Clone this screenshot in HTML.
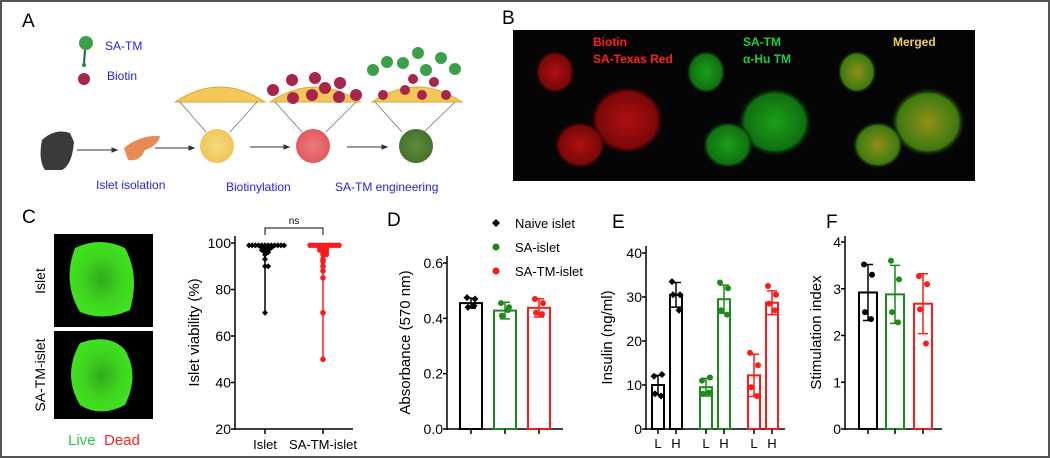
<!DOCTYPE html>
<html><head><meta charset="utf-8"><style>
html,body{margin:0;padding:0;background:#fff}
svg{display:block;font-family:"Liberation Sans",Arial,sans-serif}
</style></head><body>
<svg id="fig" width="1050" height="458" viewBox="0 0 1050 458">
<defs>
<radialGradient id="gy"><stop offset="0" stop-color="#f7dc7a"/><stop offset="1" stop-color="#efc55a"/></radialGradient>
<radialGradient id="gr"><stop offset="0" stop-color="#ef7b7b"/><stop offset="1" stop-color="#e05a5e"/></radialGradient>
<radialGradient id="gg"><stop offset="0" stop-color="#5e8e3e"/><stop offset="1" stop-color="#44722b"/></radialGradient>
<radialGradient id="bred"><stop offset="0" stop-color="#b01010"/><stop offset="0.8" stop-color="#7a0808"/><stop offset="1" stop-color="#000" stop-opacity="0"/></radialGradient>
<radialGradient id="bgrn"><stop offset="0" stop-color="#1aa01a"/><stop offset="0.8" stop-color="#107010"/><stop offset="1" stop-color="#000" stop-opacity="0"/></radialGradient>
<radialGradient id="bmrg"><stop offset="0" stop-color="#909018"/><stop offset="0.8" stop-color="#3e7a10"/><stop offset="1" stop-color="#000" stop-opacity="0"/></radialGradient>
<radialGradient id="live"><stop offset="0" stop-color="#2faa1a"/><stop offset="0.6" stop-color="#3ed41e"/><stop offset="1" stop-color="#40e020"/></radialGradient>
</defs>
<rect x="1" y="1" width="1048" height="456" fill="#fff" stroke="#555" stroke-width="2"/>

<!-- Panel A -->
<g>
<text x="22" y="27" font-size="19">A</text>
<g><circle cx="86" cy="43" r="7" fill="#3aa04a"/><line x1="85" y1="50" x2="84" y2="63" stroke="#2b5a50" stroke-width="2"/><circle cx="84" cy="65" r="2" fill="#2a8a2a"/></g>
<text x="105" y="50" font-size="12" fill="#2222ee">SA-TM</text>
<circle cx="84" cy="79" r="6" fill="#a8244a"/>
<text x="107" y="80" font-size="12" fill="#2222ee">Biotin</text>
<path d="M175 102 Q220 72 265 102 Z" fill="#f3c85a" stroke="#d9a83a"/>
<path d="M270 102 Q315 72 360 102 Z" fill="#f3c85a" stroke="#d9a83a"/>
<path d="M372 102 Q417 72 462 102 Z" fill="#f3c85a" stroke="#d9a83a"/>
<g fill="#a8244a">
<circle cx="273" cy="90" r="6"/><circle cx="292" cy="80" r="6"/><circle cx="315" cy="78" r="6"/><circle cx="325" cy="88" r="6"/><circle cx="340" cy="83" r="6"/><circle cx="293" cy="98" r="6"/><circle cx="312" cy="95" r="6"/><circle cx="339" cy="97" r="6"/><circle cx="356" cy="95" r="6"/>
<circle cx="383" cy="95" r="5"/><circle cx="405" cy="90" r="5"/><circle cx="422" cy="95" r="5"/><circle cx="446" cy="95" r="5"/><circle cx="413" cy="79" r="5"/><circle cx="434" cy="82" r="5"/>
</g>
<g fill="#3aa04a">
<circle cx="373" cy="70" r="6"/><circle cx="387" cy="62" r="6"/><circle cx="403" cy="63" r="6"/><circle cx="418" cy="53" r="6"/><circle cx="426" cy="70" r="6"/><circle cx="441" cy="58" r="6"/><circle cx="455" cy="69" r="6"/>
</g>
<g stroke="#666" stroke-width="0.7">
<line x1="180" y1="102" x2="206" y2="132"/><line x1="257" y1="102" x2="230" y2="132"/>
<line x1="275" y1="102" x2="302" y2="132"/><line x1="356" y1="102" x2="326" y2="132"/>
<line x1="375" y1="102" x2="402" y2="132"/><line x1="455" y1="102" x2="424" y2="132"/>
</g>
<path d="M42 140 Q55 128 70 133 L74 142 Q72 165 62 170 L45 170 Q38 160 42 140 Z" fill="#3a3a3a"/>
<path d="M124 148 Q140 135 160 136 Q158 146 145 150 Q140 162 128 160 Z" fill="#e88a55"/>
<circle cx="217" cy="146" r="17" fill="url(#gy)"/>
<circle cx="313" cy="146" r="17" fill="url(#gr)"/>
<circle cx="416" cy="146" r="17" fill="url(#gg)"/>
<g stroke="#333" stroke-width="1" fill="#333">
<line x1="77" y1="150" x2="113" y2="150"/><path d="M117 150 l-5 -2 v4 z"/>
<line x1="155" y1="148" x2="190" y2="148"/><path d="M194 148 l-5 -2 v4 z"/>
<line x1="250" y1="147" x2="285" y2="147"/><path d="M289 147 l-5 -2 v4 z"/>
<line x1="347" y1="147" x2="383" y2="147"/><path d="M387 147 l-5 -2 v4 z"/>
</g>
<text x="96" y="189" font-size="12" fill="#2222ee">Islet isolation</text>
<text x="226" y="191" font-size="12" fill="#2222ee">Biotinylation</text>
<text x="335" y="191" font-size="12" fill="#2222ee">SA-TM engineering</text>
</g>

<!-- Panel B -->
<g>
<text x="502" y="24" font-size="19">B</text>
<rect x="513" y="30" width="462" height="151" fill="#050505"/>
<ellipse cx="555" cy="72" rx="20" ry="22" fill="url(#bred)"/>
<ellipse cx="627" cy="120" rx="38" ry="35" fill="url(#bred)"/>
<ellipse cx="580" cy="145" rx="26" ry="24" fill="url(#bred)"/>
<ellipse cx="706" cy="72" rx="20" ry="22" fill="url(#bgrn)"/>
<ellipse cx="775" cy="122" rx="38" ry="35" fill="url(#bgrn)"/>
<ellipse cx="728" cy="145" rx="26" ry="24" fill="url(#bgrn)"/>
<ellipse cx="857" cy="72" rx="20" ry="22" fill="url(#bmrg)"/>
<ellipse cx="928" cy="122" rx="38" ry="35" fill="url(#bmrg)"/>
<ellipse cx="878" cy="145" rx="26" ry="24" fill="url(#bmrg)"/>
<g font-weight="bold" font-size="12">
<text x="593" y="46" fill="#ff2020">Biotin</text>
<text x="593" y="63" fill="#ff2020">SA-Texas Red</text>
<text x="743" y="46" fill="#22cc44">SA-TM</text>
<text x="743" y="63" fill="#22cc44">α-Hu TM</text>
<text x="893" y="46" fill="#f0d050">Merged</text>
</g>
</g>

<!-- Panel C images -->
<g>
<text x="22" y="223" font-size="19">C</text>
<rect x="54" y="234" width="99" height="93" fill="#000"/>
<path d="M75 248 Q100 236 125 248 Q140 275 130 310 Q105 322 80 312 Q62 282 75 248 Z" fill="url(#live)"/>
<rect x="54" y="331" width="99" height="88" fill="#000"/>
<path d="M80 343 Q110 333 125 350 Q140 375 125 405 Q100 418 80 405 Q62 375 80 343 Z" fill="url(#live)"/>
<text transform="translate(45,281) rotate(-90)" text-anchor="middle" font-size="14">Islet</text>
<text transform="translate(45,375) rotate(-90)" text-anchor="middle" font-size="14">SA-TM-islet</text>
<text x="68" y="445" font-size="15" fill="#22cc44">Live</text>
<text x="104" y="445" font-size="15" fill="#ff2020">Dead</text>
</g>
<g id="chartC"></g>
<g id="chartD"></g>
<g id="chartE"></g>
<g id="chartF"></g>
</svg>
<script>
// ---- Data ----
const cCategories = ["Islet", "SA-TM-islet"];
const cValuesIslet = [99,99,99,99,99,99,99,99,99,99,99,99,98,98,98,98,97,97,97,96,96,95,93,90,90,70];
const cValuesSATM = [99,99,99,99,99,99,99,99,99,99,98,98,98,97,97,97,96,96,95,95,93,92,90,88,85,70,50];
const cTicks = [20,40,60,80,100];

const dLegend = ["Naive islet", "SA-islet", "SA-TM-islet"];
const dMeans = [0.455, 0.428, 0.438];
const dErr = [0.018, 0.03, 0.033];
const dPoints = [[0.475,0.47,0.44,0.445],[0.455,0.44,0.41,0.43],[0.47,0.455,0.42,0.415]];
const dTicks = [0.0,0.2,0.4,0.6];

const eLabels = ["L","H","L","H","L","H"];
const eMeans = [10,30.5,9.5,29.5,12.2,28.7];
const eErr = [2.2,2.8,2.0,3.2,4.8,2.7];
const ePoints = [[12,12.4,8,7.5],[33.5,30.5,30.5,27],[11,11.7,8,8.3],[33.3,32,27,26],[17.3,14.5,9.5,7.5],[32.5,30.5,28.5,27]];
const eTicks = [0,10,20,30,40];

const fMeans = [2.92, 2.88, 2.68];
const fErr = [0.6, 0.62, 0.64];
const fPoints = [[3.52,3.3,2.5,2.35],[3.6,3.2,2.5,2.28],[3.27,3.1,2.56,1.83]];
const fTicks = [0,1,2,3,4];

const colors = ["#000000","#1a8a1a","#ff1a1a"];
const NS = "http://www.w3.org/2000/svg";
function mk(parent, tag, attrs, text){
  const el = document.createElementNS(NS, tag);
  for (const k in attrs) el.setAttribute(k, attrs[k]);
  if (text !== undefined) el.textContent = text;
  parent.appendChild(el);
  return el;
}
function yAxis(g, x, y0, y1, ticks, scale, label, lx, fmt){
  const ax = mk(g,'line',{x1:x,y1:y0+1,x2:x,y2:y1,stroke:'#000','stroke-width':1.5});
  
  
  ticks.forEach(t=>{
    const y = scale(t);
    const tl = mk(g,'line',{x1:x-4,y1:y,x2:x,y2:y,stroke:'#000','stroke-width':1.5});
    
    
    const tx = mk(g,'text',{x:x-4,y:y+5,'text-anchor':'end','font-size':14},fmt?fmt(t):String(t));
    
    
  });
  const yl = mk(g,'text',{transform:`translate(${lx},${(y0+y1)/2}) rotate(-90)`,'text-anchor':'middle','font-size':15},label);
  
  
}
function xAxis(g,x0,x1,y){
  const ax = mk(g,'line',{x1:x0,y1:y,x2:x1,y2:y,stroke:'#000','stroke-width':1.5});
  
  
}
function barGroup(g, cx, w, mean, err, pts, color, scale, y0, marker){
  const yt = scale(mean);
  const b = mk(g,'rect',{x:cx-w/2,y:yt,width:w,height:y0-yt,fill:'none',stroke:color,'stroke-width':2});
  
  
  const e = mk(g,'path',{d:`M${cx} ${scale(mean+err)}V${scale(mean-err)}M${cx-5} ${scale(mean+err)}h10M${cx-5} ${scale(mean-err)}h10`,stroke:color,'stroke-width':1.5,fill:'none'});
  
  
  pts.forEach((v,i)=>{
    const px = cx + [-4,4,-3,3][i%4];
    let p;
    if (marker==='d') p = mk(g,'path',{d:`M${px} ${scale(v)-3.5}l3.5 3.5l-3.5 3.5l-3.5 -3.5z`,fill:color});
    else p = mk(g,'circle',{cx:px,cy:scale(v),r:3,fill:color});
    
    
  });
}

// ---- Chart C ----
(function(){
  const g = document.getElementById('chartC');
  const y0=429, y1=243, vmin=20, vmax=100;
  const sy = v => y0 - (v-vmin)/(vmax-vmin)*(y0-y1);
  yAxis(g,235,y0,236,cTicks,sy,'Islet viability (%)',199);
  xAxis(g,235,353,y0);
  const xs=[265,323];
  [cValuesIslet,cValuesSATM].forEach((vals,ci)=>{
    const cx=xs[ci], col=colors[ci===0?0:2];
    const ln = mk(g,'line',{x1:cx,y1:sy(Math.max(...vals)),x2:cx,y2:sy(Math.min(...vals)),stroke:col,'stroke-width':1.5});
    
    
    const counts={};
    vals.forEach(v=>{
      const k=counts[v]||0; counts[v]=k+1;
      const off = (k%2?1:-1)*Math.ceil(k/2)*3.2;
      const p = ci===0
        ? mk(g,'path',{d:`M${cx+off} ${sy(v)-3}l3 3l-3 3l-3 -3z`,fill:col})
        : mk(g,'circle',{cx:cx+off,cy:sy(v),r:2.8,fill:col});
      
      
    });
    const tk = mk(g,'line',{x1:cx,y1:y0,x2:cx,y2:y0+5,stroke:'#000','stroke-width':1.5});
    
    
    const tl = mk(g,'text',{x:cx,y:449,'text-anchor':'middle','font-size':13},cCategories[ci]);
    
    
  });
  const br = mk(g,'path',{d:`M${xs[0]} 235V228H${xs[1]}V235`,stroke:'#000',fill:'none','stroke-width':1});
  
  
  const ns = mk(g,'text',{x:(xs[0]+xs[1])/2,y:224,'text-anchor':'middle','font-size':10},'ns');
  
  
})();

// ---- Chart D ----
(function(){
  const g = document.getElementById('chartD');
  const lab = mk(g,'text',{x:387,y:226,'font-size':19},'D');
  
  
  const y0=429, y1=263, vmax=0.6;
  const sy = v => y0 - v/vmax*(y0-y1);
  yAxis(g,447,y0,256,dTicks,sy,'Absorbance (570 nm)',410,t=>t.toFixed(1));
  xAxis(g,447,563,y0);
  const xs=[471,505,539];
  dMeans.forEach((m,i)=>{
    barGroup(g,xs[i],22,m,dErr[i],dPoints[i],colors[i],sy,y0,i===0?'d':'c');
    const tk = mk(g,'line',{x1:xs[i],y1:y0,x2:xs[i],y2:y0+5,stroke:'#000','stroke-width':1.5});
    
    
  });
  dLegend.forEach((name,i)=>{
    const ly = 223 + i*24;
    const m = i===0 ? mk(g,'path',{d:`M496 ${ly-4}l4 4l-4 4l-4 -4z`,fill:colors[i]}) : mk(g,'circle',{cx:496,cy:ly,r:3.5,fill:colors[i]});
    
    
    const t = mk(g,'text',{x:515,y:ly+5,'font-size':13},name);
    
    
  });
})();

// ---- Chart E ----
(function(){
  const g = document.getElementById('chartE');
  const lab = mk(g,'text',{x:612,y:228,'font-size':19},'E');
  
  
  const y0=429, y1=253, vmax=40;
  const sy = v => y0 - v/vmax*(y0-y1);
  yAxis(g,646,y0,246,eTicks,sy,'Insulin (ng/ml)',612);
  xAxis(g,646,785,y0);
  const xs=[658,676,706,724,754,772];
  eMeans.forEach((m,i)=>{
    barGroup(g,xs[i],12,m,eErr[i],ePoints[i],colors[Math.floor(i/2)],sy,y0,i<2?'d':'c');
    const tk = mk(g,'line',{x1:xs[i],y1:y0,x2:xs[i],y2:y0+5,stroke:'#000','stroke-width':1.5});
    
    
    const t = mk(g,'text',{x:xs[i],y:448,'text-anchor':'middle','font-size':13},eLabels[i]);
    
    
  });
})();

// ---- Chart F ----
(function(){
  const g = document.getElementById('chartF');
  const lab = mk(g,'text',{x:826,y:228,'font-size':19},'F');
  
  
  const y0=429, y1=242, vmax=4;
  const sy = v => y0 - v/vmax*(y0-y1);
  yAxis(g,845,y0,236,fTicks,sy,'Stimulation index',821);
  xAxis(g,845,942,y0);
  const xs=[868,895,923];
  fMeans.forEach((m,i)=>{
    barGroup(g,xs[i],18,m,fErr[i],fPoints[i],colors[i],sy,y0,'c');
    const tk = mk(g,'line',{x1:xs[i],y1:y0,x2:xs[i],y2:y0+5,stroke:'#000','stroke-width':1.5});
    
    
  });
})();
</script>
</body></html>
